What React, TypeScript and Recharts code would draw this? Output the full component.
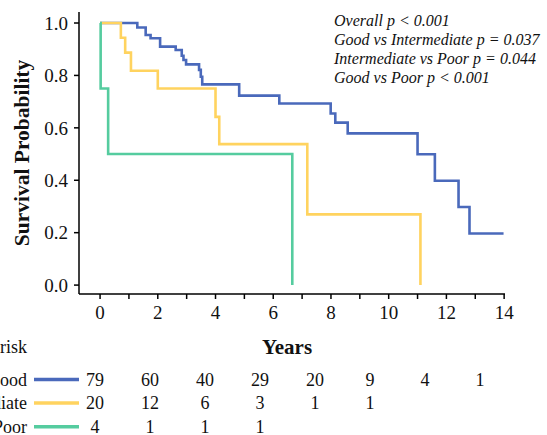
import React from "react";
import { LineChart, Line, XAxis, YAxis } from "recharts";

// Kaplan-Meier steps (years, survival probability)
const goodT = [0, 1.29, 1.58, 1.75, 2.08, 2.62, 2.83, 2.89, 2.98, 3.43, 3.49, 3.54, 4.82, 6.21, 7.99, 8.15, 8.58, 11.0, 11.6, 12.42, 12.8, 13.98];
const goodS = [1.0, 0.983, 0.954, 0.942, 0.91, 0.897, 0.875, 0.859, 0.842, 0.821, 0.795, 0.766, 0.723, 0.693, 0.655, 0.62, 0.579, 0.499, 0.398, 0.298, 0.197, 0.197];

const interT = [0, 0.72, 0.87, 1.07, 2.0, 4.0, 4.13, 7.18, 11.1];
const interS = [1.0, 0.944, 0.887, 0.818, 0.75, 0.642, 0.538, 0.27, 0.0];

const poorT = [0, 0.02, 0.28, 6.66];
const poorS = [1.0, 0.75, 0.5, 0.0];

const xTicks = [0, 1, 2, 3, 4, 5, 6, 7, 8, 9, 10, 11, 12, 13, 14];
const yTicks = [0, 0.2, 0.4, 0.6, 0.8, 1.0];

const groups = ["Good", "Intermediate", "Poor"];
const colors = ["#4A69BB", "#FFD35F", "#55CC9F"];
const atRisk = [
  [79, 60, 40, 29, 20, 9, 4, 1],
  [20, 12, 6, 3, 1, 1],
  [4, 1, 1, 1],
];

const pValues = [
  "Overall p < 0.001",
  "Good vs Intermediate p = 0.037",
  "Intermediate vs Poor p = 0.044",
  "Good vs Poor p < 0.001",
];

const toRows = (t: number[], s: number[]) => t.map((v, i) => ({ t: v, s: s[i] }));
const series = [toRows(goodT, goodS), toRows(interT, interS), toRows(poorT, poorS)];

const FONT = "'Liberation Serif', 'Times New Roman', serif";

export default function App() {
  return (
    <div style={{ position: "absolute", left: 0, top: 0, width: 547, height: 435, background: "#fff", fontFamily: FONT }}>
      <LineChart width={547} height={435} margin={{ top: 12, right: 42, bottom: 111, left: 19 }}>
        <XAxis
          type="number"
          dataKey="t"
          domain={[-0.73, 14.03]}
          allowDataOverflow
          ticks={xTicks}
          interval={0}
          tickFormatter={(v: number) => (v % 2 === 0 ? String(v) : "")}
          height={30}
          tickSize={5}
          tickMargin={7}
          stroke="#000"
          strokeWidth={1.5}
          tick={{ fill: "#111", fontSize: 19, fontFamily: FONT }}
        />
        <YAxis
          type="number"
          domain={[-0.034, 1.042]}
          allowDataOverflow
          ticks={yTicks}
          interval={0}
          tickFormatter={(v: number) => v.toFixed(1)}
          width={60}
          tickSize={5}
          tickMargin={6}
          stroke="#000"
          strokeWidth={1.5}
          tick={{ fill: "#111", fontSize: 19, fontFamily: FONT }}
        />
        {series.map((d, i) => (
          <Line
            key={groups[i]}
            data={d}
            dataKey="s"
            type="stepAfter"
            stroke={colors[i]}
            strokeWidth={2.6}
            dot={false}
            activeDot={false}
            isAnimationActive={false}
          />
        ))}
      </LineChart>

      <svg width={547} height={435} style={{ position: "absolute", left: 0, top: 0, pointerEvents: "none" }}>
        <text
          x={22}
          y={153}
          transform="rotate(-90 22 153)"
          textAnchor="middle"
          dominantBaseline="central"
          fontSize={21.5}
          fontWeight="bold"
          fontFamily={FONT}
          fill="#111"
        >
          Survival Probability
        </text>
        <text x={287} y={347} textAnchor="middle" dominantBaseline="central" fontSize={21} fontWeight="bold" fontFamily={FONT} fill="#111">
          Years
        </text>

        {pValues.map((p, i) => (
          <text key={p} x={334} y={20 + i * 19.2} dominantBaseline="central" fontSize={16} fontStyle="italic" fontFamily={FONT} fill="#111">
            {p}
          </text>
        ))}

        <text x={27} y={347} textAnchor="end" dominantBaseline="central" fontSize={18} fontFamily={FONT} fill="#111">
          Number at risk
        </text>
        {groups.map((g, r) => {
          const y = 379.5 + r * 23.6;
          return (
            <g key={g}>
              <text x={27} y={y} textAnchor="end" dominantBaseline="central" fontSize={18} fontFamily={FONT} fill="#111">
                {g}
              </text>
              <line x1={34} x2={79} y1={y} y2={y} stroke={colors[r]} strokeWidth={3.5} />
              {atRisk[r].map((n, c) => (
                <text key={c} x={95 + c * 55} y={y} textAnchor="middle" dominantBaseline="central" fontSize={18} fontFamily={FONT} fill="#111">
                  {n}
                </text>
              ))}
            </g>
          );
        })}
      </svg>
    </div>
  );
}
